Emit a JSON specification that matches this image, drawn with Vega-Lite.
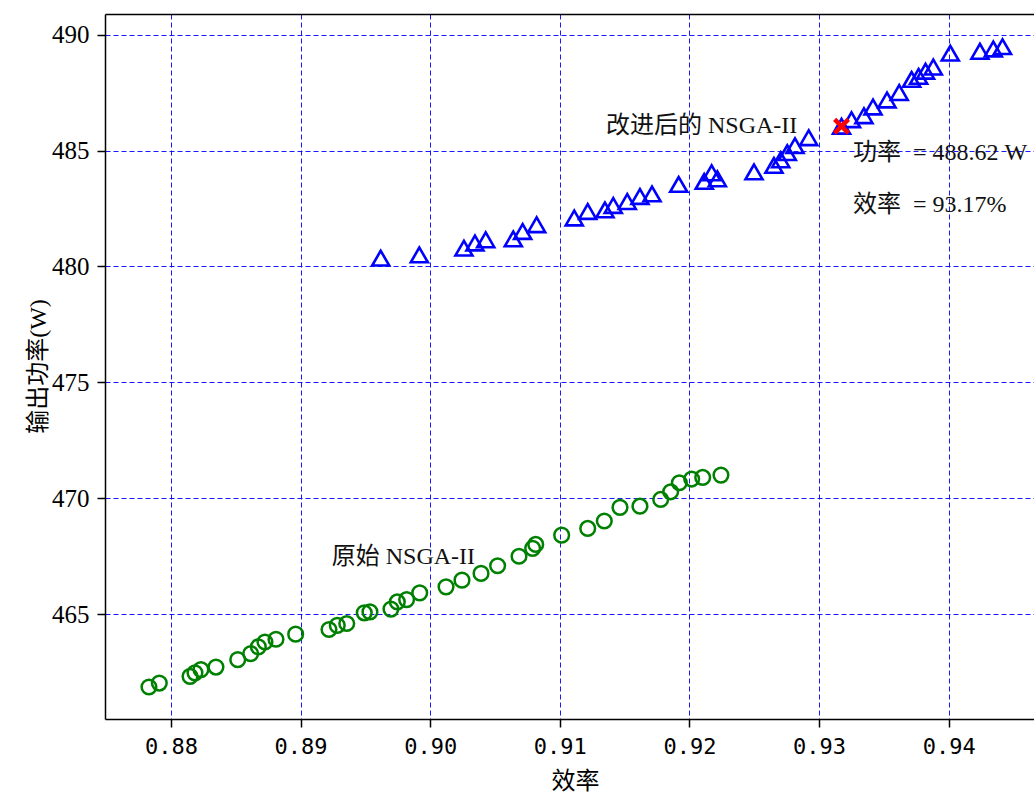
{
  "$schema": "https://vega.github.io/schema/vega-lite/v6.json",
  "width": 929,
  "height": 705,
  "autosize": {"type": "none"},
  "padding": {"left": 105, "top": 14, "right": 0, "bottom": 75},
  "background": "white",
  "config": {
    "view": {"stroke": null},
    "axis": {
      "domainColor": "black", "domainWidth": 1.5,
      "tickColor": "black", "tickWidth": 1.5, "tickSize": 8,
      "gridColor": "#0000ff", "gridDash": [5, 3], "gridWidth": 1, "gridOpacity": 0.9,
      "labelColor": "black", "titleColor": "black", "titleFontWeight": "normal"
    }
  },
  "datasets": {
    "improved": [
      {"eff": 0.89618, "power": 480.36}, {"eff": 0.89916, "power": 480.50}, {"eff": 0.90260, "power": 480.79},
      {"eff": 0.90345, "power": 481.01}, {"eff": 0.90428, "power": 481.15}, {"eff": 0.90641, "power": 481.19},
      {"eff": 0.90713, "power": 481.51}, {"eff": 0.90821, "power": 481.80}, {"eff": 0.91111, "power": 482.09},
      {"eff": 0.91215, "power": 482.37}, {"eff": 0.91348, "power": 482.44}, {"eff": 0.91412, "power": 482.63},
      {"eff": 0.91520, "power": 482.80}, {"eff": 0.91618, "power": 483.02}, {"eff": 0.91711, "power": 483.13},
      {"eff": 0.91917, "power": 483.54}, {"eff": 0.92114, "power": 483.67}, {"eff": 0.92171, "power": 484.04},
      {"eff": 0.92215, "power": 483.78}, {"eff": 0.92498, "power": 484.08}, {"eff": 0.92652, "power": 484.36},
      {"eff": 0.92704, "power": 484.60}, {"eff": 0.92755, "power": 484.91}, {"eff": 0.92814, "power": 485.21},
      {"eff": 0.92920, "power": 485.55}, {"eff": 0.93173, "power": 486.05}, {"eff": 0.93250, "power": 486.33},
      {"eff": 0.93346, "power": 486.50}, {"eff": 0.93416, "power": 486.88}, {"eff": 0.93524, "power": 487.18},
      {"eff": 0.93618, "power": 487.50}, {"eff": 0.93714, "power": 488.07}, {"eff": 0.93768, "power": 488.20},
      {"eff": 0.93821, "power": 488.42}, {"eff": 0.93881, "power": 488.60}, {"eff": 0.94012, "power": 489.20},
      {"eff": 0.94241, "power": 489.28}, {"eff": 0.94344, "power": 489.38}, {"eff": 0.94415, "power": 489.48}
    ],
    "original": [
      {"eff": 0.87830, "power": 461.86}, {"eff": 0.87910, "power": 462.03}, {"eff": 0.88147, "power": 462.32},
      {"eff": 0.88185, "power": 462.47}, {"eff": 0.88231, "power": 462.61}, {"eff": 0.88347, "power": 462.72},
      {"eff": 0.88515, "power": 463.04}, {"eff": 0.88615, "power": 463.30}, {"eff": 0.88674, "power": 463.59},
      {"eff": 0.88725, "power": 463.80}, {"eff": 0.88810, "power": 463.92}, {"eff": 0.88962, "power": 464.14},
      {"eff": 0.89219, "power": 464.34}, {"eff": 0.89283, "power": 464.52}, {"eff": 0.89356, "power": 464.60},
      {"eff": 0.89491, "power": 465.06}, {"eff": 0.89535, "power": 465.10}, {"eff": 0.89697, "power": 465.22},
      {"eff": 0.89746, "power": 465.53}, {"eff": 0.89818, "power": 465.63}, {"eff": 0.89919, "power": 465.92},
      {"eff": 0.90122, "power": 466.18}, {"eff": 0.90245, "power": 466.47}, {"eff": 0.90392, "power": 466.76},
      {"eff": 0.90520, "power": 467.09}, {"eff": 0.90685, "power": 467.50}, {"eff": 0.90790, "power": 467.84},
      {"eff": 0.90814, "power": 468.01}, {"eff": 0.91014, "power": 468.41}, {"eff": 0.91215, "power": 468.70},
      {"eff": 0.91343, "power": 469.02}, {"eff": 0.91464, "power": 469.61}, {"eff": 0.91618, "power": 469.66},
      {"eff": 0.91778, "power": 469.95}, {"eff": 0.91855, "power": 470.28}, {"eff": 0.91922, "power": 470.67},
      {"eff": 0.92017, "power": 470.83}, {"eff": 0.92102, "power": 470.90}, {"eff": 0.92243, "power": 471.00}
    ],
    "best": [{"eff": 0.93173, "power": 486.05}],
    "labels": [
      {"eff": 0.89240, "power": 467.47, "label": "原始 NSGA-II"},
      {"eff": 0.91356, "power": 486.04, "label": "改进后的 NSGA-II"},
      {"eff": 0.93262, "power": 484.90, "label": "功率\u00a0\u00a0= 488.62 W"},
      {"eff": 0.93262, "power": 482.66, "label": "效率\u00a0\u00a0= 93.17%"}
    ]
  },
  "resolve": {"axis": {"x": "independent"}},
  "layer": [
    {
      "data": {"name": "original"},
      "mark": {"type": "point", "shape": "circle", "filled": false, "stroke": "#008000", "strokeWidth": 2.5, "size": 215, "opacity": 1},
      "encoding": {
        "x": {
          "field": "eff", "type": "quantitative",
          "scale": {"domain": [0.87491, 0.94658], "nice": false, "zero": false},
          "axis": {
            "orient": "bottom", "title": "效率", "values": [0.88, 0.89, 0.90, 0.91, 0.92, 0.93, 0.94],
            "format": ".2f", "labelFont": "DejaVu Sans Mono", "labelFontSize": 22, "labelPadding": 9,
            "titleFont": "Noto Sans CJK SC", "titleFontSize": 24, "titleX": 470, "titleY": 62,
            "titleBaseline": "middle", "titleAlign": "center", "labelFlush": false
          }
        },
        "y": {
          "field": "power", "type": "quantitative",
          "scale": {"domain": [460.48, 490.89], "nice": false, "zero": false},
          "axis": {
            "title": "输出功率(W)", "values": [465, 470, 475, 480, 485, 490],
            "labelFont": "Liberation Serif", "labelFontSize": 25, "labelPadding": 8,
            "titleFont": "Liberation Serif, Noto Sans CJK SC", "titleFontSize": 24, "titleX": -67, "titleY": 352,
            "titleAngle": -90, "titleAlign": "center", "titleBaseline": "middle", "labelFlush": false
          }
        }
      }
    },
    {
      "data": {"name": "improved"},
      "mark": {"type": "point", "shape": "triangle-up", "filled": false, "stroke": "#0000ff", "strokeWidth": 2.6, "size": 290, "opacity": 1},
      "encoding": {
        "x": {
          "field": "eff", "type": "quantitative",
          "axis": {"orient": "top", "labels": false, "ticks": false, "grid": false, "title": null}
        },
        "y": {"field": "power", "type": "quantitative"}
      }
    },
    {
      "data": {"name": "best"},
      "mark": {"type": "point", "shape": "M-1,-1L1,1M-1,1L1,-1", "filled": false, "stroke": "#ff0000", "strokeWidth": 4.5, "size": 190, "opacity": 1},
      "encoding": {
        "x": {"field": "eff", "type": "quantitative", "axis": null},
        "y": {"field": "power", "type": "quantitative"}
      }
    },
    {
      "data": {"name": "labels"},
      "mark": {"type": "text", "align": "left", "baseline": "middle", "font": "Liberation Serif, Noto Sans CJK SC", "fontSize": 24, "color": "#111111"},
      "encoding": {
        "x": {"field": "eff", "type": "quantitative", "axis": null},
        "y": {"field": "power", "type": "quantitative"},
        "text": {"field": "label"}
      }
    }
  ]
}
